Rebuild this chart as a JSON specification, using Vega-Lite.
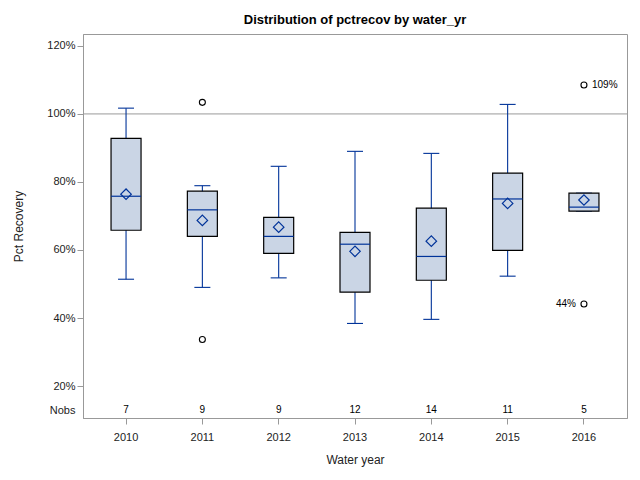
{
  "$schema": "https://vega.github.io/schema/vega-lite/v6.json",
  "width": 544,
  "height": 384,
  "autosize": "none",
  "padding": {"left": 83, "top": 34, "right": 13, "bottom": 62},
  "background": "white",
  "title": {"text": "Distribution of pctrecov by water_yr", "font": "Liberation Sans", "fontSize": 13, "fontWeight": "bold", "color": "#000", "offset": 7, "anchor": "middle"},
  "config": {
    "view": {"stroke": "#999", "strokeWidth": 1},
    "axis": {"labelFont": "Liberation Sans", "titleFont": "Liberation Sans", "labelFontSize": 11, "titleFontSize": 12, "titleFontWeight": "normal", "labelColor": "#222", "titleColor": "#222", "domainColor": "#999", "tickColor": "#999", "grid": false, "tickSize": 6}
  },
  "datasets": {
    "stats": [
      {"year": 2010, "lo": 51.4, "q1": 65.8, "med": 75.8, "mean": 76.4, "q3": 92.8, "hi": 101.7, "n": 7},
      {"year": 2011, "lo": 49.0, "q1": 64.0, "med": 71.8, "mean": 68.7, "q3": 77.3, "hi": 78.9, "n": 9},
      {"year": 2012, "lo": 51.8, "q1": 59.0, "med": 64.0, "mean": 66.7, "q3": 69.6, "hi": 84.6, "n": 9},
      {"year": 2013, "lo": 38.4, "q1": 47.6, "med": 61.7, "mean": 59.6, "q3": 65.2, "hi": 89.0, "n": 12},
      {"year": 2014, "lo": 39.6, "q1": 51.1, "med": 58.1, "mean": 62.6, "q3": 72.3, "hi": 88.4, "n": 14},
      {"year": 2015, "lo": 52.3, "q1": 59.9, "med": 75.0, "mean": 73.7, "q3": 82.6, "hi": 102.8, "n": 11},
      {"year": 2016, "lo": 71.4, "q1": 71.4, "med": 72.6, "mean": 74.7, "q3": 76.7, "hi": 76.7, "n": 5}
    ],
    "outliers": [
      {"year": 2011, "v": 103.4, "label": "", "side": "none"},
      {"year": 2011, "v": 33.7, "label": "", "side": "none"},
      {"year": 2016, "v": 108.5, "label": "109%", "side": "right"},
      {"year": 2016, "v": 44.1, "label": "44%", "side": "left"}
    ]
  },
  "encoding": {
    "x": {"field": "year", "type": "ordinal", "title": "Water year",
      "scale": {"domain": [2010, 2011, 2012, 2013, 2014, 2015, 2016], "paddingInner": 0, "paddingOuter": 0.064},
      "axis": {"labelAngle": 0, "labelPadding": 7, "titlePadding": 12}}
  },
  "layer": [
    {
      "data": {"values": [{"ref": 100}]},
      "mark": {"type": "rule", "color": "#999", "strokeWidth": 1},
      "encoding": {
        "x": null,
        "y": {"field": "ref", "type": "quantitative", "scale": {"domain": [10.6, 123.5], "nice": false, "zero": false},
          "title": "Pct Recovery",
          "axis": {"values": [12.9, 20, 40, 60, 80, 100, 120],
            "labelExpr": "datum.value < 15 ? 'Nobs' : datum.value + '%'",
            "tickOpacity": {"condition": {"test": "datum.value < 15", "value": 0}, "value": 1},
            "titlePadding": 21}}
      }
    },
    {
      "data": {"name": "stats"},
      "mark": {"type": "rule", "color": "#003399", "strokeWidth": 1.1},
      "encoding": {"y": {"field": "lo", "type": "quantitative"}, "y2": {"field": "hi"}}
    },
    {
      "data": {"name": "stats"},
      "mark": {"type": "tick", "color": "#003399", "size": 16, "thickness": 1.1, "opacity": 1},
      "encoding": {"y": {"field": "lo", "type": "quantitative"}}
    },
    {
      "data": {"name": "stats"},
      "mark": {"type": "tick", "color": "#003399", "size": 16, "thickness": 1.1, "opacity": 1},
      "encoding": {"y": {"field": "hi", "type": "quantitative"}}
    },
    {
      "data": {"name": "stats"},
      "mark": {"type": "bar", "size": 30, "fill": "#CAD5E5", "stroke": "#000", "strokeWidth": 1.2},
      "encoding": {"y": {"field": "q1", "type": "quantitative"}, "y2": {"field": "q3"}}
    },
    {
      "data": {"name": "stats"},
      "mark": {"type": "tick", "color": "#003399", "size": 30, "thickness": 1.2, "opacity": 1},
      "encoding": {"y": {"field": "med", "type": "quantitative"}}
    },
    {
      "data": {"name": "stats"},
      "mark": {"type": "point", "shape": "diamond", "filled": false, "stroke": "#003399", "strokeWidth": 1.2, "size": 110, "opacity": 1},
      "encoding": {"y": {"field": "mean", "type": "quantitative"}}
    },
    {
      "data": {"name": "stats"},
      "mark": {"type": "text", "font": "Liberation Sans", "fontSize": 10, "color": "#000", "baseline": "middle"},
      "encoding": {"y": {"datum": 12.9, "type": "quantitative"}, "text": {"field": "n", "type": "nominal"}}
    },
    {
      "data": {"name": "outliers"},
      "mark": {"type": "point", "shape": "circle", "filled": false, "stroke": "#000", "strokeWidth": 1.1, "size": 36, "opacity": 1},
      "encoding": {"y": {"field": "v", "type": "quantitative"}}
    },
    {
      "data": {"name": "outliers"},
      "transform": [{"filter": "datum.side == 'right'"}],
      "mark": {"type": "text", "font": "Liberation Sans", "fontSize": 10, "color": "#000", "align": "left", "dx": 8, "baseline": "middle"},
      "encoding": {"y": {"field": "v", "type": "quantitative"}, "text": {"field": "label", "type": "nominal"}}
    },
    {
      "data": {"name": "outliers"},
      "transform": [{"filter": "datum.side == 'left'"}],
      "mark": {"type": "text", "font": "Liberation Sans", "fontSize": 10, "color": "#000", "align": "right", "dx": -8, "baseline": "middle"},
      "encoding": {"y": {"field": "v", "type": "quantitative"}, "text": {"field": "label", "type": "nominal"}}
    }
  ]
}
